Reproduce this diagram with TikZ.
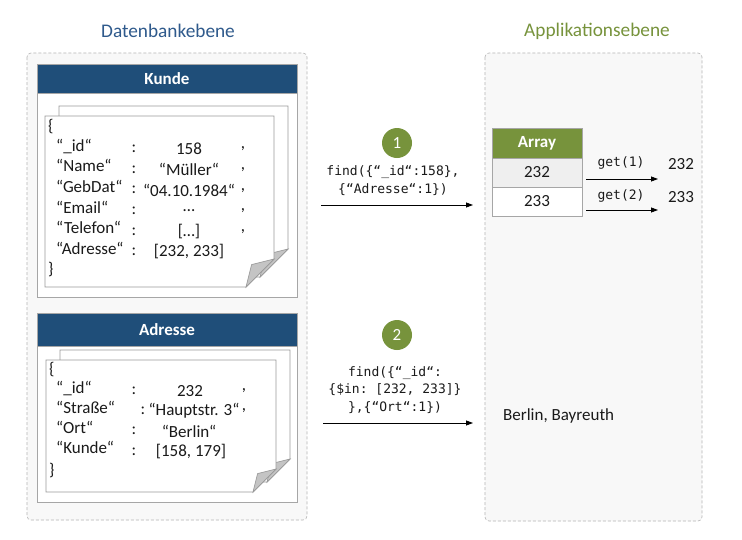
\documentclass[tikz,border=0pt]{standalone}
\usepackage{fontspec}
\setmainfont{Carlito}
\setmonofont{DejaVu Sans Mono}
\usetikzlibrary{arrows.meta}
\definecolor{navy}{HTML}{1F4E79}
\definecolor{titleblue}{HTML}{2F5A8C}
\definecolor{olive}{HTML}{77933C}
\definecolor{panelfill}{HTML}{F8F8F8}
\definecolor{panelline}{HTML}{B4B4B4}
\definecolor{boxline}{HTML}{A6A6A6}
\definecolor{txt}{HTML}{1A1A1A}
\definecolor{foldgray}{HTML}{C4C4C4}
\definecolor{rowgray}{HTML}{EFEFEF}
\newcommand\mydocpage[5]{%
 \draw[pageline,fill=white] ({#1+14},{#2-10}) -- ({#3+14},{#2-10}) -- ({#3+14},{#4-10-#5}) -- ({#3+14-#5},{#4-10}) -- ({#1+14},{#4-10}) -- cycle;
 \draw[pageline,fill=foldgray] ({#3+14},{#4-10-#5}) -- ({#3+14-0.8*#5},{#4-10-0.8*#5}) -- ({#3+14-#5},{#4-10}) -- cycle;
 \draw[pageline,fill=white] (#1,#2) -- (#3,#2) -- (#3,{#4-#5}) -- ({#3-#5},#4) -- (#1,#4) -- cycle;
 \draw[pageline,fill=foldgray] (#3,{#4-#5}) -- ({#3-0.8*#5},{#4-0.8*#5}) -- ({#3-#5},#4) -- cycle;
}
\tikzset{
 panel/.style={draw=panelline, fill=panelfill, densely dashed, rounded corners=4pt, line width=0.6pt},
 outerbox/.style={draw=boxline, fill=white, line width=0.8pt},
 headbox/.style={draw=boxline, fill=navy, line width=0.8pt},
 pageline/.style={draw=gray!80, line width=0.7pt},
 body/.style={font=\fontsize{17}{20}\selectfont, text=txt, inner sep=0pt},
 bold/.style={font=\fontsize{17}{20}\selectfont\bfseries, text=white, inner sep=0pt},
 mono/.style={font=\fontsize{13}{17.8}\selectfont\ttfamily, text=txt, inner sep=0pt, align=center},
 title/.style={font=\fontsize{19.3}{22}\selectfont, inner sep=0pt},
 stepcircle/.style={circle, fill=olive, minimum size=30pt, inner sep=0pt, font=\fontsize{17}{20}\selectfont, text=white},
 arr/.style={draw=black, line width=0.8pt, -{Triangle[length=7pt,width=5pt]}},
 cell/.style={draw=boxline, line width=0.8pt, minimum width=90pt, inner sep=0pt, font=\fontsize{17}{20}\selectfont, text=txt},
}
\begin{document}
\begin{tikzpicture}[x=1pt,y=-1pt]
\useasboundingbox (0,0) rectangle (742,539);
\fill[white] (0,0) rectangle (742,539);
% titles
\node[title, text=titleblue] (t1) at (168,31) {Datenbankebene};
\node[title, text=olive] (t2) at (597,31) {Applikationsebene};
% panels
\draw[panel] (27,53) rectangle (307,520);
\draw[panel] (485,53) rectangle (702,521);
% Kunde box
\draw[outerbox] (37,64) rectangle (297,297);
\draw[headbox] (37,64) rectangle (297,93);
\node[bold] (kh) at (167,79) {Kunde};
\mydocpage{45}{116}{274}{287}{28}
\node[body, anchor=mid west] (kob) at (48,129) {\{};
\node[body, anchor=mid west] (kcb) at (48,272) {\}};
\foreach \y/\k/\v/\c [count=\i] in {149/“\_id“/158/{,}, 169.6/“Name“/“Müller“/{,}, 190.2/“GebDat“/“04.10.1984“/{,}, 210.8/“Email“/…/{,}, 231.4/“Telefon“/[…]/{,}, 252/“Adresse“/{[232, 233]}/{}}{
 \node[body, anchor=mid west] (kk\i) at (56,\y) {\k};
 \node[body] (kc\i) at (134,\y) {:};
 \node[body] (kv\i) at (189,\y) {\v};
 \node[body] (kz\i) at (243,\y) {\c};
}
% Adresse box
\draw[outerbox] (37,313) rectangle (297,502);
\draw[headbox] (37,313) rectangle (297,346);
\node[bold] (ah) at (167,330) {Adresse};
\mydocpage{46}{360}{276}{492}{23}
\node[body, anchor=mid west] (aob) at (49,372) {\{};
\node[body, anchor=mid west] (acb) at (49,473) {\}};
\foreach \y/\k/\cx/\v/\vx/\c [count=\i] in {391/“\_id“/134/232/190/{,}, 411/“Straße“/143/“Hauptstr. 3“/194/{,}, 431/“Ort“/134/“Berlin“/189/{}, 451.5/“Kunde“/134/{[158, 179]}/191/{}}{
 \node[body, anchor=mid west] (ak\i) at (56,\y) {\k};
 \node[body] (ac\i) at (\cx,\y) {:};
 \node[body] (av\i) at (\vx,\y) {\v};
 \node[body] (az\i) at (244,\y) {\c};
}
% step 1
\node[stepcircle] (s1) at (397,143) {1};
\node[mono] (f1) at (393,180.5) {find(\{“\_id“:158\},\\\{“Adresse“:1\})};
\coordinate (a1s) at (321,205);
\coordinate (a1e) at (473,205);
\draw[arr] (a1s) -- (a1e);
% array
\node[cell, fill=olive, minimum height=30pt, text=white, font=\fontsize{17}{20}\selectfont\bfseries] (arh) at (537,143) {Array};
\node[cell, fill=rowgray, minimum height=29pt] (ar1) at (537,172.5) {232};
\node[cell, fill=white, minimum height=29pt] (ar2) at (537,201.5) {233};
\coordinate (g1s) at (586,179);
\coordinate (g1e) at (658,179);
\coordinate (g2s) at (586,210);
\coordinate (g2e) at (658,210);
\draw[arr] (g1s) -- (g1e);
\draw[arr] (g2s) -- (g2e);
\node[mono] (gl1) at (621,163) {get(1)};
\node[mono] (gl2) at (621,196) {get(2)};
\node[body] (r1) at (681,164) {232};
\node[body] (r2) at (681,197) {233};
% step 2
\node[stepcircle] (s2) at (397,335) {2};
\node[mono] (f2) at (395,390) {find(\{“\_id“:\\\{\$in: [232, 233]\}\\\},\{“Ort“:1\})};
\coordinate (a2s) at (323,423);
\coordinate (a2e) at (473,423);
\draw[arr] (a2s) -- (a2e);
\node[body, anchor=mid west] (res) at (503,418) {Berlin, Bayreuth};
\end{tikzpicture}
\end{document}
